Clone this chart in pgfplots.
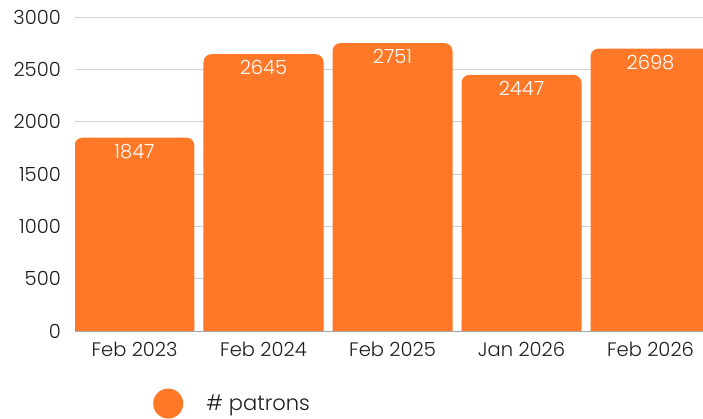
\documentclass[border=0pt]{standalone}
\usepackage{pgfplots}
\pgfplotsset{compat=1.18}
\usepackage{fontspec}
\setmainfont{Poppins}[UprightFont={* Light}]
\definecolor{barorange}{HTML}{FF7828}
\definecolor{gridgray}{HTML}{D0D0D0}
\definecolor{txt}{HTML}{1E1E1E}
\begin{document}
\begin{tikzpicture}
\useasboundingbox (0,0) rectangle (703pt,419pt);
\begin{axis}[
  at={(75pt,88pt)}, anchor=south west,
  scale only axis, width=628pt, height=314pt,
  xmin=-0.4612, xmax=4.407, ymin=0, ymax=3000,
  ytick={0,500,...,3000},
  xtick={0,...,4},
  xticklabels={Feb 2023,Feb 2024,Feb 2025,Jan 2026,Feb 2026},
  ymajorgrids, grid style={gridgray, line width=0.8pt},
  axis x line*=bottom, axis y line*=left,
  x axis line style={draw=gray!70, line width=0.8pt, -},
  y axis line style={draw=none},
  major tick length=0pt,
  tick style={draw=none},
  tick label style={font=\fontsize{19.5}{21}\selectfont, text=txt},
  yticklabel style={inner sep=0pt, xshift=-14pt},
  xticklabel style={inner sep=0pt, yshift=-11pt},
  /pgf/number format/assume math mode=true,
  /pgf/number format/1000 sep={},
  scaled y ticks=false,
  legend image code/.code={\fill[barorange] (15.5pt,0pt) circle (15pt);},
  legend style={at={(0.1242,-0.231)}, anchor=west, draw=none, fill=none,
    inner sep=0pt, font=\fontsize{21}{23}\selectfont, text=txt,
    nodes={inner sep=0pt},
    /tikz/every odd column/.append style={column sep=23pt}},
]
\addplot[ybar, bar width=120pt, bar shift=0pt, fill=barorange, draw=none,
  rounded corners=8pt,
  nodes near coords, nodes near coords align={below},
  every node near coord/.append style={yshift=-6pt, inner sep=0pt, text=white,
    font=\fontsize{19.5}{21}\selectfont, /pgf/number format/assume math mode=true}]
  coordinates {(0,1847) (1,2645) (2,2751) (3,2447) (4,2698)};
\addlegendentry{\# patrons}
\addplot[ybar, bar width=120pt, bar shift=0pt, fill=barorange, draw=none, forget plot]
  coordinates {(0,90) (1,90) (2,90) (3,90) (4,90)};
\end{axis}
\end{tikzpicture}
\end{document}
